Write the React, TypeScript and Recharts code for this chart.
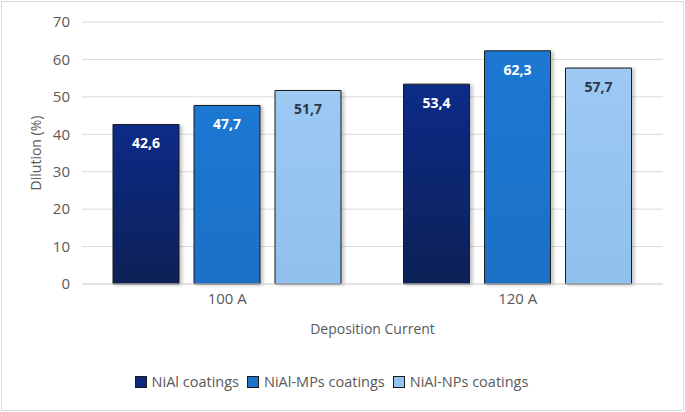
import React from "react";
import { BarChart, Bar, XAxis, YAxis, CartesianGrid, Legend, LabelList } from "recharts";

const categories = ["100 A", "120 A"];
const niAl = [42.6, 53.4];
const niAlMps = [47.7, 62.3];
const niAlNps = [51.7, 57.7];
const yTicks = [0, 10, 20, 30, 40, 50, 60, 70];

const data = categories.map((c, i) => ({
  name: c,
  niAl: niAl[i],
  mps: niAlMps[i],
  nps: niAlNps[i],
}));

const series = [
  { key: "niAl", name: "NiAl coatings", fill: "url(#gNiAl)", swatch: "#0b2a7e", label: "#ffffff" },
  { key: "mps", name: "NiAl-MPs coatings", fill: "url(#gMps)", swatch: "#1b74cc", label: "#ffffff" },
  { key: "nps", name: "NiAl-NPs coatings", fill: "url(#gNps)", swatch: "#93c3f0", label: "#2b3646" },
];

const fmt = (v: any) => Number(v).toFixed(1).replace(".", ",");
const FONT = "'Open Sans', sans-serif";
const GREY = "#595959";

const LegendContent = () => (
  <div style={{ display: "flex", justifyContent: "center", fontFamily: FONT, fontSize: 14.5, color: GREY, paddingLeft: 8 }}>
    {series.map((s) => (
      <span key={s.key} style={{ display: "flex", alignItems: "center", marginRight: 8 }}>
        <span
          style={{
            display: "inline-block",
            width: 10,
            height: 10,
            background: s.swatch,
            border: "1px solid #1a1a1a",
            marginRight: 5,
          }}
        />
        {s.name}
      </span>
    ))}
  </div>
);

export default function App() {
  return (
    <div
      style={{
        position: "absolute",
        left: 0,
        top: 0,
        width: 685,
        height: 412,
        background: "#fff",
      }}
    >
      <div
        style={{
          position: "absolute",
          left: 1,
          top: 1,
          width: 681,
          height: 408,
          border: "1px solid #d9d9d9",
          pointerEvents: "none",
        }}
      />
      <BarChart
        width={685}
        height={412}
        data={data}
        margin={{ top: 22, right: 22, left: 0, bottom: 0 }}
        barSize={66}
        barGap={15}
      >
        <defs>
          <linearGradient id="gNiAl" x1="0" y1="0" x2="0" y2="1">
            <stop offset="0%" stopColor="#0c2a88" />
            <stop offset="100%" stopColor="#0b2256" />
          </linearGradient>
          <linearGradient id="gMps" x1="0" y1="0" x2="0" y2="1">
            <stop offset="0%" stopColor="#1e78d2" />
            <stop offset="100%" stopColor="#1a70c6" />
          </linearGradient>
          <linearGradient id="gNps" x1="0" y1="0" x2="0" y2="1">
            <stop offset="0%" stopColor="#9dc9f3" />
            <stop offset="100%" stopColor="#8fc0ee" />
          </linearGradient>
          <filter id="shadow" x="-20%" y="-20%" width="140%" height="140%">
            <feDropShadow dx="3" dy="1" stdDeviation="1.5" floodColor="#000" floodOpacity="0.2" />
          </filter>
        </defs>
        <CartesianGrid vertical={false} stroke="#d9d9d9" />
        <XAxis
          dataKey="name"
          height={88}
          tickLine={false}
          axisLine={{ stroke: "#d9d9d9" }}
          tick={{ fill: GREY, fontSize: 15, fontFamily: FONT }}
          tickMargin={3}
          label={{ value: "Deposition Current", position: "insideBottom", offset: 38, fill: GREY, fontSize: 14, fontFamily: FONT }}
        />
        <YAxis
          width={82}
          domain={[0, 70]}
          ticks={yTicks}
          interval={0}
          tickLine={false}
          axisLine={false}
          tick={{ fill: GREY, fontSize: 15, fontFamily: FONT }}
          tickMargin={6}
          label={{ value: "Dilution (%)", angle: -90, position: "insideLeft", offset: 36, style: { textAnchor: "middle" }, fill: GREY, fontSize: 14, fontFamily: FONT }}
        />
        <Legend verticalAlign="bottom" height={40} content={<LegendContent />} />
        {series.map((s) => (
          <Bar
            key={s.key}
            dataKey={s.key}
            name={s.name}
            fill={s.fill}
            stroke="#1a1a1a"
            strokeWidth={1}
            filter="url(#shadow)"
            isAnimationActive={false}
          >
            <LabelList
              dataKey={s.key}
              position="insideTop"
              offset={14}
              formatter={fmt}
              fill={s.label}
              fontSize={14}
              fontWeight="bold"
              fontFamily={FONT}
            />
          </Bar>
        ))}
      </BarChart>
    </div>
  );
}
